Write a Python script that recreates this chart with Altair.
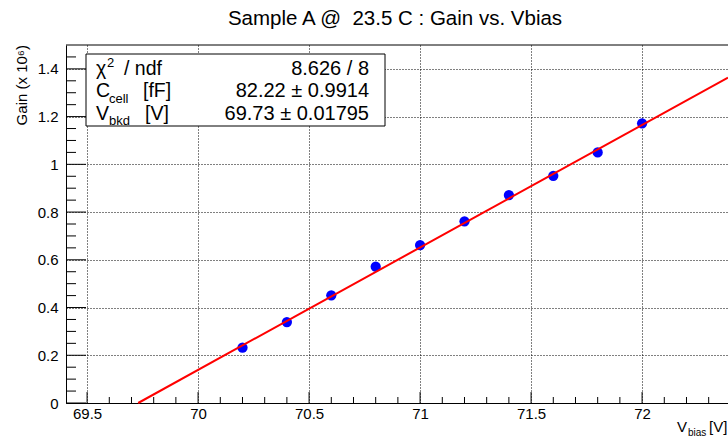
import altair as alt
import numpy as np
import pandas as pd

# Bias voltage scan (V) and measured gain (in units of 10^6)
v_bias = [70.2, 70.4, 70.6, 70.8, 71.0, 71.2, 71.4, 71.6, 71.8, 72.0]
gain = [0.232, 0.339, 0.451, 0.571, 0.662, 0.761, 0.871, 0.952, 1.050, 1.172]

# Linear fit: G = C_cell * (V - V_bkd) / e
chi2, ndf = 8.626, 8
c_cell, c_cell_err = 82.22, 0.9914      # fF
v_bkd, v_bkd_err = 69.73, 0.01795       # V

# Axis tick values
x_major = [69.5, 70.0, 70.5, 71.0, 71.5, 72.0]
y_major = [0.0, 0.2, 0.4, 0.6, 0.8, 1.0, 1.2, 1.4]
x_minor = [v for v in np.round(np.arange(69.5, 72.35, 0.1), 2) if v not in x_major]
y_minor = [v for v in np.round(np.arange(0.0, 1.5, 0.05), 2) if v not in y_major]

X_MIN, X_MAX = 69.405, 72.387
Y_MIN, Y_MAX = 0.0, 1.5
W, H = 662, 358
FONT = "Liberation Sans"
E_CHARGE = 1.602176634e-19

# fit line from breakdown voltage to the right edge of the frame
slope = c_cell * 1e-15 / E_CHARGE / 1e6
fit_df = pd.DataFrame({"v": [v_bkd, X_MAX], "g": [0.0, slope * (X_MAX - v_bkd)]})
pts_df = pd.DataFrame({"v": v_bias, "g": gain})
one = pd.DataFrame({"k": [0]})

xs = alt.Scale(domain=[X_MIN, X_MAX], nice=False, zero=False)
ys = alt.Scale(domain=[Y_MIN, Y_MAX], nice=False, zero=False)

grid_kw = dict(grid=True, gridColor="black", gridDash=[1, 2], gridOpacity=1, gridWidth=1,
               ticks=False, tickSize=0, domainColor="black", domainWidth=1,
               labelFont=FONT, labelFontSize=15, labelColor="black", title="")

x_axis = alt.Axis(values=x_major, labelPadding=3, format="~g", **grid_kw)
y_axis = alt.Axis(values=y_major, labelPadding=8, format="~g", **grid_kw)


def xq(field):
    return alt.X(f"{field}:Q", scale=xs, axis=x_axis)


def yq(field):
    return alt.Y(f"{field}:Q", scale=ys, axis=y_axis)


points = alt.Chart(pts_df).mark_circle(size=105, color="#0000ff", opacity=1).encode(
    x=xq("v"), y=yq("g"))

fit = alt.Chart(fit_df).mark_line(color="#ff0000", strokeWidth=2).encode(
    x=xq("v"), y=yq("g"))


def yticks(vals, length):
    return alt.Chart(pd.DataFrame({"t": vals})).mark_rule(color="black", strokeWidth=1).encode(
        y=yq("t"), x=alt.value(0), x2=alt.value(length))


def xticks(vals, length):
    return alt.Chart(pd.DataFrame({"t": vals})).mark_rule(color="black", strokeWidth=1).encode(
        x=xq("t"), y=alt.value(H), y2=alt.value(H - length))


top_frame = alt.Chart(one).mark_rule(color="black", strokeWidth=1).encode(
    x=alt.value(0), x2=alt.value(W), y=alt.value(0))


def label(text, x, y, size, align="left", baseline="alphabetic", angle=0):
    return alt.Chart(one).mark_text(
        font=FONT, fontSize=size, align=align, baseline=baseline, angle=angle, color="black"
    ).encode(x=alt.value(x), y=alt.value(y), text=alt.value(text))


stats_box = alt.Chart(one).mark_rect(fill="white", stroke="black", strokeWidth=1).encode(
    x=alt.value(20), x2=alt.value(319), y=alt.value(9), y2=alt.value(81))

texts = [
    label("Sample A @\u00a0 23.5 C : Gain vs. Vbias", 329, -20, 20.5, align="center"),
    label("Gain (x 10⁶)", -44, 0, 15, align="right", baseline="middle", angle=270),
    label("V", 611, 387, 15),
    label("bias", 622, 391, 10),
    label("[V]", 643, 387, 15),
    # fit statistics
    label("χ", 30, 30, 19.5),
    label("2", 41, 22, 13),
    label("/ ndf", 58, 30, 19.5),
    label("C", 30, 52, 19.5),
    label("cell", 43, 58, 13),
    label("[fF]", 77, 52, 19.5),
    label("V", 30, 75, 19.5),
    label("bkd", 43, 80, 13),
    label("[V]", 79, 75, 19.5),
    label(f"{chi2:g} / {ndf}", 303, 30, 20, align="right"),
    label(f"{c_cell:g} ± {c_cell_err:g}", 303, 52, 20, align="right"),
    label(f"{v_bkd:g} ± {v_bkd_err:g}", 303, 75, 20, align="right"),
]

chart = alt.layer(
    points,
    yticks(y_major, 20), yticks(y_minor, 10),
    xticks(x_major, 11), xticks(x_minor, 6),
    top_frame,
    fit,
    stats_box,
    *texts,
).properties(
    width=W, height=H,
    padding={"left": 66, "top": 45, "right": 0, "bottom": 34},
    autosize=alt.AutoSizeParams(type="none"),
    background="white",
).configure_view(stroke=None)

chart.save("out.html", embed_options={"renderer": "svg", "actions": False})
